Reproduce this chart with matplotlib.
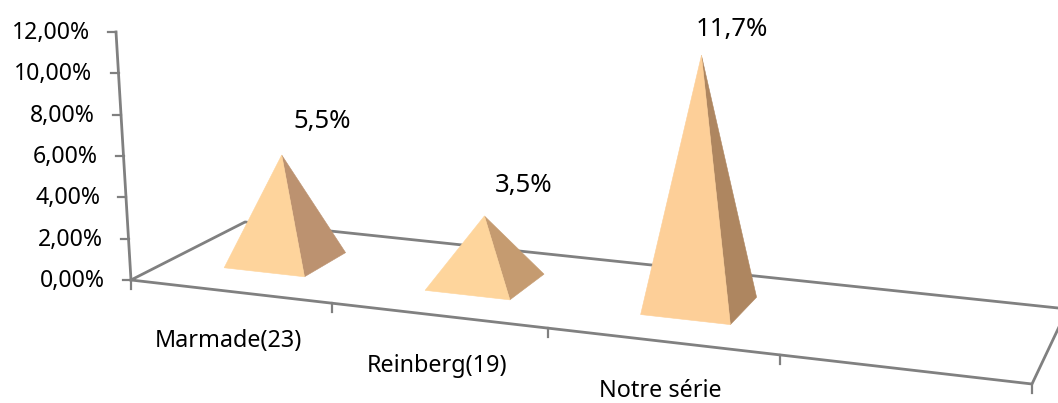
import numpy as np
import matplotlib
matplotlib.use('Agg')
from matplotlib import pyplot as plt
from matplotlib.patches import Polygon

# data
categories = ['Marmade(23)', 'Reinberg(19)', 'Notre série']
values = [5.5, 3.5, 11.7]
value_labels = ['5,5%', '3,5%', '11,7%']
y_ticks = [0, 2, 4, 6, 8, 10, 12]
y_tick_labels = ['0,00%', '2,00%', '4,00%', '6,00%', '8,00%', '10,00%', '12,00%']
n_slots = 4

# look of the fake 3d box
GREY = '#808080'
light = ['#FED49C', '#FED59C', '#FDCF98']
dark = ['#BC9270', '#C59B70', '#AE8660']
px_per_pct = [19.1, 18.9, 21.4]
apex_lean = [-4, -1, 2]
label_shift = [(40, -34), (39, -30), (30, -26)]
slot_edges = [0, 0.975, 1.97, 2.975, 4]
half_u = 0.2
half_v = 0.2
mid_v = 0.50

def floor_matrix():
    # floor corners in pixels, u goes 0..n_slots and v 0..1
    src = [(0, 0), (n_slots, 0), (0, 1), (n_slots, 1)]
    dst = [(131, 280), (1032, 384), (245, 222), (1067.5, 309)]
    A = []
    b = []
    for (u, v), (x, y) in zip(src, dst):
        A.append([u, v, 1, 0, 0, 0, -u*x, -v*x])
        A.append([0, 0, 0, u, v, 1, -u*y, -v*y])
        b += [x, y]
    h = np.linalg.solve(np.array(A, float), np.array(b, float))
    return np.append(h, 1).reshape(3, 3)

H = floor_matrix()

def floor(u, v):
    p = H @ np.array([u, v, 1.0])
    return p[0]/p[2], p[1]/p[2]

def wall(z):
    # point of the value axis, 0 at bottom and 12 at top
    t = z/12
    return 131 + (116-131)*t, 280 + (32-280)*t

fig = plt.figure(figsize=(10.58, 4.03), dpi=100)
ax = fig.add_axes([0, 0, 1, 1])
ax.set_xlim(0, 1058)
ax.set_ylim(403, 0)
ax.axis('off')
plt.rcParams['font.family'] = ['Noto Sans', 'DejaVu Sans']

# value axis
ax.plot(*zip(wall(0), wall(12)), color=GREY, lw=2.0, zorder=1)
for t, lab in zip(y_ticks, y_tick_labels):
    x, y = wall(t)
    ax.plot([x-8, x], [y, y], color=GREY, lw=1.6, zorder=1)
    ax.text(x-26, y+1, lab, ha='right', va='center', fontsize=16.6, color='black')

# floor edges
corners = [floor(0, 0), floor(n_slots, 0), floor(n_slots, 1), floor(0, 1), floor(0, 0)]
ax.plot(*zip(*corners), color=GREY, lw=2.0, zorder=1)
for edge in slot_edges:
    x, y = floor(edge, 0)
    ax.plot([x, x], [y, y+9], color=GREY, lw=1.6, zorder=1)

# pyramids
for i, val in enumerate(values):
    u = (slot_edges[i] + slot_edges[i+1])/2
    cx, cy = floor(u, mid_v)
    apex = (cx + apex_lean[i], cy - val*px_per_pct[i])
    fl = floor(u-half_u, mid_v-half_v)
    fr = floor(u+half_u, mid_v-half_v)
    br = floor(u+half_u, mid_v+half_v)
    ax.add_patch(Polygon([fr, br, apex], fc=dark[i], ec=dark[i], lw=0.4, zorder=2))
    ax.add_patch(Polygon([fl, fr, apex], fc=light[i], ec=light[i], lw=0.4, zorder=3))
    dx, dy = label_shift[i]
    ax.text(apex[0]+dx, apex[1]+dy, value_labels[i], ha='center', va='center', fontsize=18.5, color='black')
    lx, ly = floor(u, 0)
    ax.text(lx-2, ly+50, categories[i], ha='center', va='center', fontsize=16.8, color='black')

fig.savefig('out.png', dpi=100)
